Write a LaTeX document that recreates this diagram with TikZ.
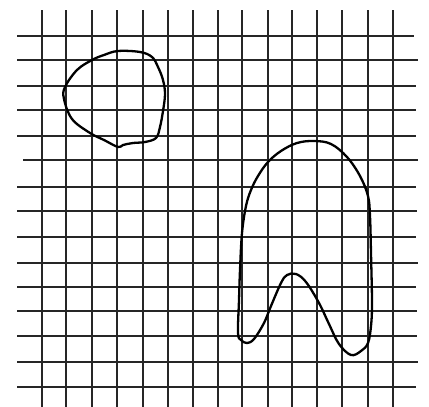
\documentclass[tikz,border=0pt]{standalone}
\usepackage{xcolor}
\usepackage{tikz}

\begin{document}
\begin{tikzpicture}[x=1pt, y=-1pt]
    % Define styles
    \tikzstyle{gridline} = [draw=black!85, line width=1.2pt]
    \tikzstyle{outline} = [draw=black, line width=2.3pt, line join=round]

    \useasboundingbox (0,0) rectangle (429,407);

    % Grid - vertical lines
    \foreach \gx in {42,66,92,117,143,168,193,218,242,268,292,317,342,368,393}
        \draw[gridline] (\gx,10) -- (\gx,407);

    % Grid - horizontal lines
    \foreach \gy/\gl/\gr in {36/17/414, 60/17/418, 86/17/416, 110/17/416, 136/17/416,
                              160/23/418, 187/17/416, 211/17/417, 237/17/416, 263/17/418,
                              287/17/416, 311/17/417, 336/17/417, 362/17/418, 387/17/416}
        \draw[gridline] (\gl,\gy) -- (\gr,\gy);

    % Small closed blob
    \draw[outline] plot[smooth cycle, tension=0.6] coordinates {
        (118,147) (104,140) (90,133) (72,119) (64,99) (65,87) (77,70) (92,60)
        (104,55) (118,51) (140,52) (152,57) (158,67) (163,80) (165,94)
        (163,111) (160,127) (156,138) (145,142) (133,143) (123,145)};

    % Arch with inner hump
    \draw[outline] plot[smooth cycle, tension=0.6] coordinates {
        (238,333) (239,300) (240,270) (242,233) (246,206) (251,190) (258,176)
        (268,162) (281,151) (297,143) (314,141) (331,144) (347,157) (360,176)
        (368,196) (370,216) (371,253) (372,303) (371,326) (368,343) (361,351)
        (351,355) (339,344) (329,324) (319,303) (306,282) (296,274) (287,275)
        (281,283) (271,306) (264,323) (254,339) (247,343) (241,340)};
\end{tikzpicture}
\end{document}
